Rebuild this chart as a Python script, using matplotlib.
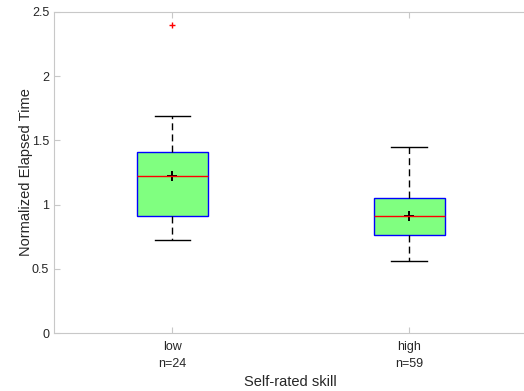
import matplotlib
matplotlib.use("Agg")
from matplotlib import pyplot as plt

plt.rcParams['font.family'] = ['Liberation Sans', 'DejaVu Sans']

# values
groups = ['low', 'high']
counts = [24, 59]
q1 = [0.909, 0.761]
med = [1.225, 0.909]
q3 = [1.412, 1.049]
wlo = [0.724, 0.558]
whi = [1.692, 1.449]
means = [1.22, 0.912]
outliers = [[2.40], []]

stats = []
for i in range(len(groups)):
    stats.append(dict(med=med[i], q1=q1[i], q3=q3[i], whislo=wlo[i],
                      whishi=whi[i], fliers=outliers[i], mean=means[i]))

fig = plt.figure(figsize=(5.24, 3.91), dpi=100)
ax = fig.add_axes([54/524, 58/391, 473.5/524, 321/391])

pos = [1, 2]
ax.bxp(stats, positions=pos, widths=0.3, patch_artist=True, showmeans=False,
       boxprops=dict(facecolor='#80ff80', edgecolor='#0000ff', linewidth=1.0),
       medianprops=dict(color='#ff0000', linewidth=1.0),
       whiskerprops=dict(color='black', linestyle=(0, (5, 3)), linewidth=1.0),
       capprops=dict(color='black', linewidth=1.0),
       capwidths=0.15,
       flierprops=dict(marker='+', markeredgecolor='red', markersize=4, markeredgewidth=1))
ax.plot(pos, means, linestyle='none', marker='+', color='black',
        markersize=7, markeredgewidth=1.4)

ax.set_xlim(0.5, 2.5)
ax.set_ylim(0, 2.5)
ax.set_yticks([0, 0.5, 1, 1.5, 2, 2.5])
ax.set_yticklabels(['0', '0.5', '1', '1.5', '2', '2.5'])
ax.set_xticks(pos)
ax.set_xticklabels(['%s\nn=%d' % (g, n) for g, n in zip(groups, counts)],
                   linespacing=1.5)

ax.spines['right'].set_visible(False)
for s in ax.spines.values():
    s.set_color('#c8c8c8')
ax.tick_params(direction='in', length=4, color='#c8c8c8', labelcolor='#262626',
               labelsize=9, top=True, right=False)
ax.tick_params(axis='x', pad=6)

ax.set_xlabel('Self-rated skill', fontsize=10.5, color='#262626', labelpad=4)
ax.set_ylabel('Normalized Elapsed Time', fontsize=10.5, color='#262626', labelpad=-1)

fig.savefig('out.png', dpi=100)
